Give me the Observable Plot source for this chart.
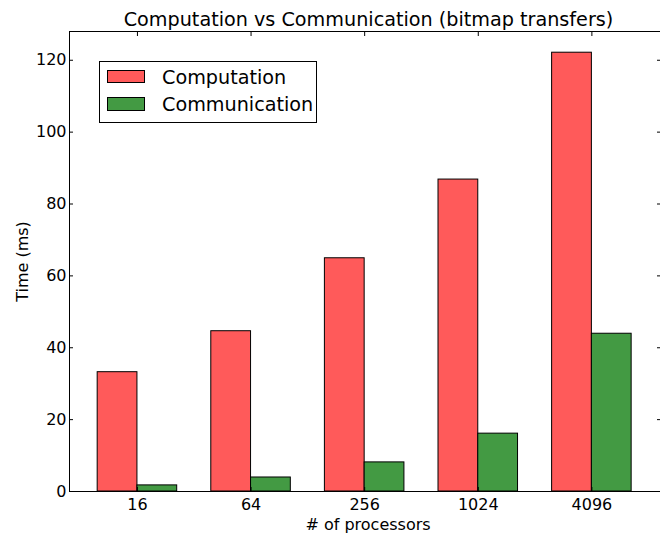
<!DOCTYPE html>
<html><head><meta charset="utf-8">
<script src="https://cdn.jsdelivr.net/npm/d3@7"></script>
<script src="https://cdn.jsdelivr.net/npm/@observablehq/plot@0.6"></script>
<style>
body{margin:0;background:#fff;}
#wrap{position:relative;width:660px;height:539px;font-family:"DejaVu Sans",sans-serif;}
#legend{position:absolute;left:99px;top:61px;width:218px;height:62px;box-sizing:border-box;border:1px solid #000;background:#fff;}
.sw{position:absolute;left:7px;width:38px;height:13px;box-sizing:border-box;border:1px solid #000;}
.lt{position:absolute;left:62px;font-size:19.2px;line-height:20px;color:#000;white-space:nowrap;}
</style></head><body><div id="wrap"></div>
<script>
const processors = ["16", "64", "256", "1024", "4096"];
const computation = [33.2, 44.6, 64.9, 86.8, 122.1];
const communication = [1.7, 3.9, 8.1, 16.1, 43.9];
const series = ["Computation", "Communication"];
const colors = ["#ff5a5a", "#439a43"];
const yTicks = [0, 20, 40, 60, 80, 100, 120];
const title = "Computation vs Communication (bitmap transfers)";
const xLabel = "# of processors";
const yLabel = "Time (ms)";

const barWidth = 0.35;
const rows = [];
processors.forEach((p, i) => {
  rows.push({x1: i, x2: i + barWidth, value: computation[i], series: series[0]});
  rows.push({x1: i + barWidth, x2: i + 2 * barWidth, value: communication[i], series: series[1]});
});
const tickPos = processors.map((p, i) => i + barWidth);
const xDomain = [-0.248, 4.954];
const yDomain = [0, 128];
const blank = () => "";

const chart = Plot.plot({
  width: 660, height: 539,
  marginLeft: 69, marginRight: 0, marginTop: 31, marginBottom: 48,
  style: {fontFamily: "DejaVu Sans", fontSize: "16px", background: "white", color: "black", overflow: "visible"},
  x: {type: "linear", domain: xDomain},
  y: {domain: yDomain},
  color: {domain: series, range: colors},
  marks: [
    Plot.rectY(rows, {x1: "x1", x2: "x2", y1: 0, y2: "value", fill: "series", stroke: "black", strokeWidth: 1}),
    Plot.ruleX([xDomain[0]], {stroke: "black"}),
    Plot.ruleY(yDomain, {stroke: "black"}),
    Plot.axisX(tickPos, {anchor: "bottom", tickSize: -4, tickFormat: blank, label: null}),
    Plot.axisX(tickPos, {anchor: "top", tickSize: -4, tickFormat: blank, label: null}),
    Plot.axisX(tickPos, {anchor: "bottom", tickSize: 0, tickPadding: 7, fontSize: 16, tickFormat: d => processors[Math.round(d - barWidth)], label: null}),
    Plot.axisY(yTicks, {anchor: "left", tickSize: -4, tickFormat: blank, label: null}),
    Plot.axisY(yTicks, {anchor: "right", tickSize: -4, tickFormat: blank, label: null}),
    Plot.axisY(yTicks, {anchor: "left", tickSize: 0, tickPadding: 3, fontSize: 16, tickFormat: d => String(d), label: null}),
    Plot.text([title], {frameAnchor: "top", lineAnchor: "bottom", dy: -6, dx: 3.5, fontSize: 19.2}),
    Plot.text([xLabel], {frameAnchor: "bottom", lineAnchor: "top", dy: 27.6, dx: 3, fontSize: 16}),
    Plot.text([yLabel], {frameAnchor: "left", textAnchor: "middle", rotate: -90, dx: -47, fontSize: 16})
  ]
});
const wrap = document.getElementById("wrap");
wrap.appendChild(chart);

const legend = document.createElement("div");
legend.id = "legend";
const swTops = [8, 35];
const txtTops = [6, 33];
series.forEach((s, i) => {
  const sw = document.createElement("div");
  sw.className = "sw";
  sw.style.top = swTops[i] + "px";
  sw.style.height = (i === 0 ? 13 : 14) + "px";
  sw.style.background = colors[i];
  legend.appendChild(sw);
  const t = document.createElement("div");
  t.className = "lt";
  t.style.top = txtTops[i] + "px";
  t.textContent = s;
  legend.appendChild(t);
});
wrap.appendChild(legend);
</script></body></html>
